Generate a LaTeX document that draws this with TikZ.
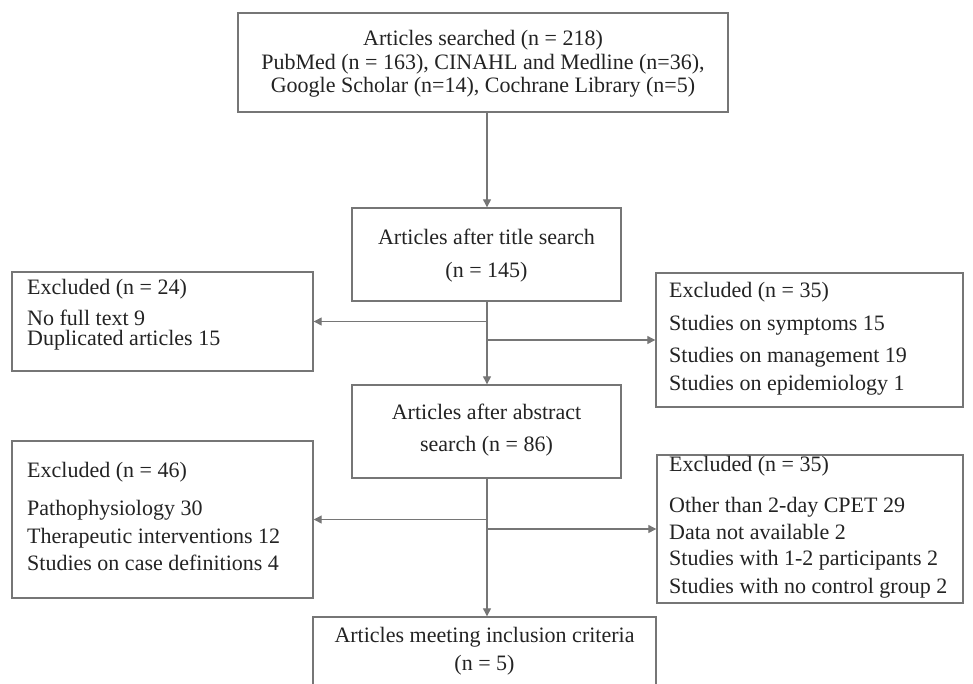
\documentclass[tikz,border=0pt]{standalone}
\usepackage{fontspec}
\setmainfont{Liberation Serif}
\usetikzlibrary{arrows.meta}
\definecolor{linegray}{RGB}{118,118,118}
\definecolor{txtcol}{RGB}{35,35,35}
\begin{document}
\begin{tikzpicture}[x=1pt,y=1pt,
  box/.style={draw=linegray, line width=1.4pt, rectangle, inner sep=0pt},
  txt/.style={text=txtcol, font=\fontsize{22}{25}\selectfont, inner sep=0pt},
  arr/.style={draw=linegray, line width=1.2pt, -{Triangle[width=8pt,length=8pt]}}
]
\clip (0,0) rectangle (973,-683);
\fill[white] (0,0) rectangle (973,-683);

% boxes
\node[box, minimum width=490, minimum height=99] (search) at (483,-62.5) {};
\node[box, minimum width=269, minimum height=93] (title) at (486.5,-254.5) {};
\node[box, minimum width=269, minimum height=93] (abstract) at (486.5,-431.5) {};
\node[box, minimum width=343, minimum height=83] (incl) at (484.5,-658.5) {};
\node[box, minimum width=301, minimum height=99] (exA) at (162.5,-321.5) {};
\node[box, minimum width=307, minimum height=134] (exB) at (809.5,-340) {};
\node[box, minimum width=301, minimum height=157] (exC) at (162.5,-519.5) {};
\node[box, minimum width=306, minimum height=148] (exD) at (810,-529) {};

% centred texts
\node[txt, anchor=mid] (s1) at (483,-43) {Articles searched (n = 218)};
\node[txt, anchor=mid] (s2) at (483,-67) {PubMed (n = 163), CINAHL and Medline (n=36),};
\node[txt, anchor=mid] (s3) at (483,-90) {Google Scholar (n=14), Cochrane Library (n=5)};
\node[txt, anchor=mid] (t1) at (486.5,-242) {Articles after title search};
\node[txt, anchor=mid] (t2) at (486.5,-275) {(n = 145)};
\node[txt, anchor=mid] (a1) at (486.5,-417) {Articles after abstract};
\node[txt, anchor=mid] (a2) at (486.5,-449) {search (n = 86)};
\node[txt, anchor=mid] (i1) at (484.5,-640) {Articles meeting inclusion criteria};
\node[txt, anchor=mid] (i2) at (484.5,-668) {(n = 5)};

% left excluded texts
\node[txt, anchor=mid west] (xa1) at (27,-292) {Excluded (n = 24)};
\node[txt, anchor=mid west] (xa2) at (27,-323) {No full text 9};
\node[txt, anchor=mid west] (xa3) at (27,-343) {Duplicated articles 15};
\node[txt, anchor=mid west] (xc1) at (27,-475) {Excluded (n = 46)};
\node[txt, anchor=mid west] (xc2) at (27,-513) {Pathophysiology 30};
\node[txt, anchor=mid west] (xc3) at (27,-541) {Therapeutic interventions 12};
\node[txt, anchor=mid west] (xc4) at (27,-568) {Studies on case definitions 4};

% right excluded texts
\node[txt, anchor=mid west] (xb1) at (669,-295) {Excluded (n = 35)};
\node[txt, anchor=mid west] (xb2) at (669,-328) {Studies on symptoms 15};
\node[txt, anchor=mid west] (xb3) at (669,-360) {Studies on management 19};
\node[txt, anchor=mid west] (xb4) at (669,-388) {Studies on epidemiology 1};
\node[txt, anchor=mid west] (xd1) at (669,-469) {Excluded (n = 35)};
\node[txt, anchor=mid west] (xd2) at (669,-510) {Other than 2-day CPET 29};
\node[txt, anchor=mid west] (xd3) at (669,-537) {Data not available 2};
\node[txt, anchor=mid west] (xd4) at (669,-563) {Studies with 1-2 participants 2};
\node[txt, anchor=mid west] (xd5) at (669,-591) {Studies with no control group 2};

% connectors
\coordinate (spine) at (487,0);
\draw[arr] (search.south -| spine) -- (title.north -| spine);
\draw[arr] (title.south -| spine) -- (abstract.north -| spine);
\draw[arr] (abstract.south -| spine) -- (incl.north -| spine);
\draw[arr] (exA.east -| spine) -- (exA.east);
\draw[arr] (exB.west -| spine) -- (exB.west);
\draw[arr] (exC.east -| spine) -- (exC.east);
\draw[arr] (exD.west -| spine) -- (exD.west);
\end{tikzpicture}
\end{document}
